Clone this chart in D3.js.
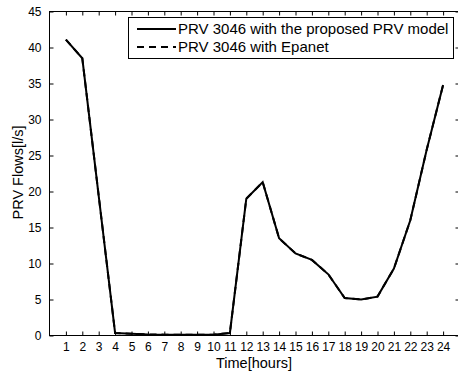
<!DOCTYPE html>
<html>
<head>
<meta charset="utf-8">
<script src="https://cdn.jsdelivr.net/npm/d3@7"></script>
<style>
  html, body { margin: 0; padding: 0; background: #fff; }
  svg { display: block; font-family: "Liberation Sans", Arial, Helvetica, sans-serif; }
</style>
</head>
<body>
<svg id="chart" width="458" height="375"></svg>
<script>
// Hourly PRV flows [l/s]
const hours = [1, 2, 3, 4, 5, 6, 7, 8, 9, 10, 11, 12, 13, 14, 15, 16, 17, 18, 19, 20, 21, 22, 23, 24];
const proposedModel = [41.1, 38.5, 19.4, 0.35, 0.25, 0.15, 0.12, 0.1, 0.1, 0.12, 0.35, 19.0, 21.3, 13.5, 11.4, 10.5, 8.5, 5.2, 5.0, 5.4, 9.3, 16.0, 25.8, 34.8];
const epanet        = [41.1, 38.5, 19.4, 0.35, 0.25, 0.15, 0.12, 0.1, 0.1, 0.12, 0.35, 19.0, 21.3, 13.5, 11.4, 10.5, 8.5, 5.2, 5.0, 5.4, 9.3, 16.0, 25.8, 34.8];
const yTicks = [0, 5, 10, 15, 20, 25, 30, 35, 40, 45];
const seriesNames = ["PRV 3046 with the proposed PRV model", "PRV 3046 with Epanet"];

const svg = d3.select("#chart");
const plot = { left: 49.5, right: 459.5, top: 11.5, bottom: 335.5 };

const x = d3.scaleLinear().domain([0, 25]).range([plot.left, plot.right]);
const y = d3.scaleLinear().domain([0, 45]).range([plot.bottom, plot.top]);

const tickLen = 4;
const tickFont = 12;
const labelFont = 14.5;

// Frame
svg.append("rect")
  .attr("x", plot.left).attr("y", plot.top)
  .attr("width", plot.right - plot.left).attr("height", plot.bottom - plot.top)
  .attr("fill", "none").attr("stroke", "#000").attr("stroke-width", 1);

// Bottom axis with inward ticks
const xAxis = svg.append("g")
  .attr("transform", `translate(0,${plot.bottom})`)
  .call(d3.axisBottom(x).tickValues(hours).tickSizeInner(-tickLen).tickSizeOuter(0).tickPadding(7));
// Top mirrored ticks
const xAxisTop = svg.append("g")
  .attr("transform", `translate(0,${plot.top})`)
  .call(d3.axisTop(x).tickValues(hours).tickSizeInner(-tickLen).tickSizeOuter(0).tickFormat(""));
// Left axis
const yAxis = svg.append("g")
  .attr("transform", `translate(${plot.left},0)`)
  .call(d3.axisLeft(y).tickValues(yTicks).tickSizeInner(-tickLen).tickSizeOuter(0).tickPadding(8));
// Right mirrored ticks
const yAxisRight = svg.append("g")
  .attr("transform", `translate(${plot.right},0)`)
  .call(d3.axisRight(y).tickValues(yTicks).tickSizeInner(-tickLen).tickSizeOuter(0).tickFormat(""));

[xAxis, xAxisTop, yAxis, yAxisRight].forEach(g => {
  g.select(".domain").remove();
  g.selectAll("line").attr("stroke", "#000");
  g.selectAll("text")
    .attr("fill", "#000")
    .attr("font-size", tickFont)
    .attr("font-family", "Liberation Sans, Arial, sans-serif");
});

// Axis titles
svg.append("text")
  .attr("x", 254)
  .attr("y", 367.5)
  .attr("text-anchor", "middle")
  .attr("font-size", labelFont)
  .text("Time[hours]");

svg.append("text")
  .attr("transform", `translate(23,172.5) rotate(-90)`)
  .attr("text-anchor", "middle")
  .attr("font-size", labelFont)
  .text("PRV Flows[l/s]");

// Series lines
const line = d3.line().x((d, i) => x(hours[i])).y(d => y(d));

svg.append("path")
  .datum(epanet)
  .attr("fill", "none").attr("stroke", "#000").attr("stroke-width", 2)
  .attr("stroke-dasharray", "7,5")
  .attr("d", line);

svg.append("path")
  .datum(proposedModel)
  .attr("fill", "none").attr("stroke", "#000").attr("stroke-width", 2)
  .attr("stroke-linejoin", "miter")
  .attr("d", line);

// Legend
const legend = svg.append("g");
legend.append("rect")
  .attr("x", 128.5).attr("y", 17.5).attr("width", 325).attr("height", 41)
  .attr("fill", "#fff").attr("stroke", "#000").attr("stroke-width", 1);

const legendRows = [
  { name: seriesNames[0], dash: null, y: 29 },
  { name: seriesNames[1], dash: "7,5", y: 47 }
];
legendRows.forEach(r => {
  legend.append("line")
    .attr("x1", 137).attr("x2", 176).attr("y1", r.y).attr("y2", r.y)
    .attr("stroke", "#000").attr("stroke-width", 2)
    .attr("stroke-dasharray", r.dash);
  legend.append("text")
    .attr("x", 178).attr("y", r.y + 5)
    .attr("font-size", 15)
    .text(r.name);
});
</script>
</body>
</html>
